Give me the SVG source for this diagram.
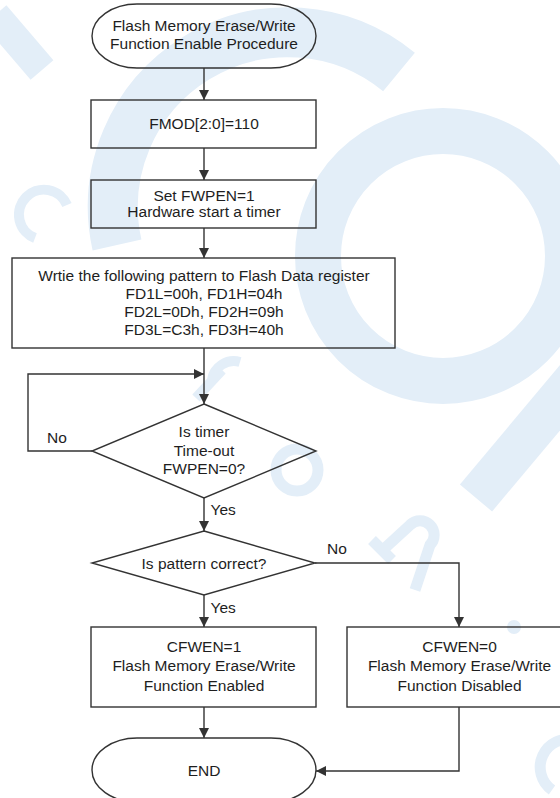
<svg xmlns="http://www.w3.org/2000/svg" width="560" height="798" viewBox="0 0 560 798">
<style>
.wm{fill:none;stroke:#e3eef8;stroke-linecap:butt}
.shape{fill:none;stroke:#333;stroke-width:1.4}
.t{font-family:"Liberation Sans",Arial,sans-serif;font-size:15.5px;fill:#1e1e1e;text-anchor:middle}
.tl{font-family:"Liberation Sans",Arial,sans-serif;font-size:15.5px;fill:#1e1e1e}
.c{fill:none;stroke:#333;stroke-width:1.4}
</style>
<defs>
<marker id="ah" viewBox="0 0 10 10" refX="10" refY="5" markerWidth="10" markerHeight="10" markerUnits="userSpaceOnUse" orient="auto">
<path d="M0,0 L10,5 L0,10 z" fill="#333"/>
</marker>
</defs>
<rect width="560" height="798" fill="#fff"/>
<g id="watermark">
<path class="wm" stroke-width="50" d="M117,245 A175,175 0 0 1 399,72"/>
<path class="wm" stroke-width="30" d="M-5,15 L42,70"/>
<circle class="wm" cx="443" cy="256" r="125" stroke-width="46"/>
<path class="wm" stroke-width="42" d="M600,350 L476,498"/>
<path class="wm" stroke-width="10" d="M35,238 A25,25 0 1 1 67,205"/>
<path class="wm" stroke-width="10" d="M196,398 L222,370 M212,380 A22,22 0 0 1 240,362"/>
<circle class="wm" cx="297" cy="470" r="21" stroke-width="11"/>
<path class="wm" stroke-width="11" d="M372,540 L392,560 M385,548 L410,525 A14,14 0 0 1 430,545 L415,590"/>
<circle cx="514" cy="627" r="7" fill="#e3eef8"/>
<path class="wm" stroke-width="11" d="M575,740 A28,28 0 0 0 552,790"/>
</g>
<g id="connectors">
<path class="c" d="M204,68 V100" marker-end="url(#ah)"/>
<path class="c" d="M204,148 V180" marker-end="url(#ah)"/>
<path class="c" d="M204,228 V258" marker-end="url(#ah)"/>
<path class="c" d="M204,348 V404" marker-end="url(#ah)"/>
<path class="c" d="M92,451 H28 V374 H204" marker-end="url(#ah)"/>
<path class="c" d="M204,498 V531" marker-end="url(#ah)"/>
<path class="c" d="M315,563 H459 V627" marker-end="url(#ah)"/>
<path class="c" d="M204,595 V627" marker-end="url(#ah)"/>
<path class="c" d="M204,707 V738" marker-end="url(#ah)"/>
<path class="c" d="M459,707 V771 H316" marker-end="url(#ah)"/>
<text class="tl" x="47" y="443">No</text>
<text class="tl" x="210.5" y="515">Yes</text>
<text class="tl" x="327" y="554">No</text>
<text class="tl" x="210.5" y="613">Yes</text>
</g>
<g id="start">
<rect class="shape" x="92" y="4" width="224" height="64" rx="45" ry="32"/>
<text class="t" x="204" y="30.5">Flash Memory Erase/Write</text>
<text class="t" x="204" y="49">Function Enable Procedure</text>
</g>
<g id="fmod">
<rect class="shape" x="91" y="100" width="225" height="48"/>
<text class="t" x="204" y="129">FMOD[2:0]=110</text>
</g>
<g id="fwpen">
<rect class="shape" x="91" y="180" width="225" height="48"/>
<text class="t" x="204" y="200.5">Set FWPEN=1</text>
<text class="t" x="204" y="216.5">Hardware start a timer</text>
</g>
<g id="pattern">
<rect class="shape" x="12" y="258" width="383" height="90"/>
<text class="t" x="204" y="280.5">Wrtie the following pattern to Flash Data register</text>
<text class="t" x="204" y="298.7">FD1L=00h, FD1H=04h</text>
<text class="t" x="204" y="317">FD2L=0Dh, FD2H=09h</text>
<text class="t" x="204" y="335.2">FD3L=C3h, FD3H=40h</text>
</g>
<g id="timeout">
<polygon class="shape" points="204,404 316,451 204,498 92,451"/>
<text class="t" x="204" y="437">Is timer</text>
<text class="t" x="204" y="455.7">Time-out</text>
<text class="t" x="204" y="474">FWPEN=0?</text>
</g>
<g id="check">
<polygon class="shape" points="204,531 315,563 204,595 92,563"/>
<text class="t" x="204" y="568.5">Is pattern correct?</text>
</g>
<g id="enabled">
<rect class="shape" x="91" y="627" width="225" height="80"/>
<text class="t" x="204" y="652.3">CFWEN=1</text>
<text class="t" x="204" y="671.3">Flash Memory Erase/Write</text>
<text class="t" x="204" y="690.5">Function Enabled</text>
</g>
<g id="disabled">
<rect class="shape" x="347" y="627" width="225" height="80"/>
<text class="t" x="459.5" y="652.3">CFWEN=0</text>
<text class="t" x="459.5" y="671.3">Flash Memory Erase/Write</text>
<text class="t" x="459.5" y="690.5">Function Disabled</text>
</g>
<g id="end">
<rect class="shape" x="92" y="738" width="224" height="64" rx="45" ry="32"/>
<text class="t" x="204" y="775.5">END</text>
</g>
</svg>
